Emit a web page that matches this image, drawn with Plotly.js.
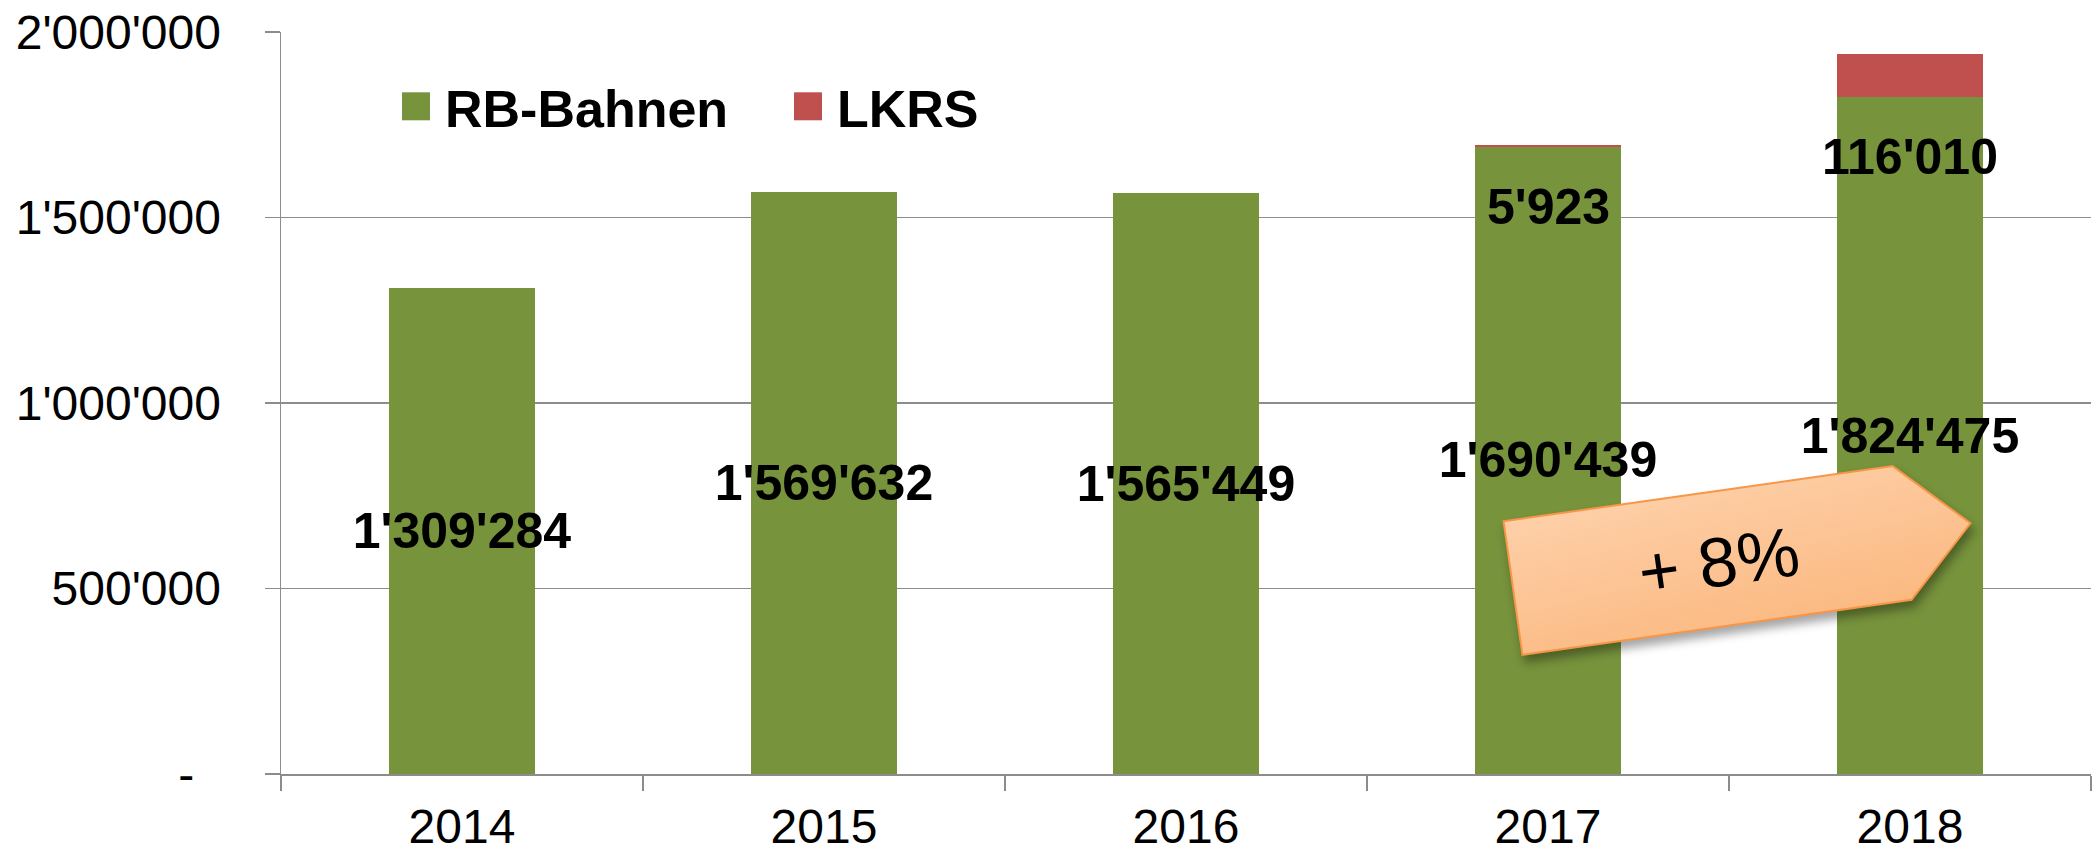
<!DOCTYPE html>
<html><head><meta charset="utf-8">
<script src="https://cdn.plot.ly/plotly-3.0.1.min.js"></script>
<style>html,body{margin:0;padding:0;background:#fff}#chart{width:2094px;height:852px}</style>
</head><body><div id="chart"></div>
<script>
// ---- data ----
const years = ['2014', '2015', '2016', '2017', '2018'];
const rbBahnen = [1309284, 1569632, 1565449, 1690439, 1824475];
const lkrs = [null, null, null, 5923, 116010];
const yTickVals = [0, 500000, 1000000, 1500000, 2000000];
const yTickText = ['-\u00a0\u00a0', "500'000", "1'000'000", "1'500'000", "2'000'000"];
const growthLabel = '+ 8%';

function fmt(v) { return String(v).replace(/\B(?=(\d{3})+(?!\d))/g, "'"); }

const FONT = '"Liberation Sans", Arial, Helvetica, sans-serif';
const GREEN = '#77933C', RED = '#C0504D', GRID = '#8c8c8c';
const W = 2094, H = 852, ML = 281, MR = 3, MT = 32, MB = 78;
const PW = W - ML - MR, PH = H - MT - MB;

const traces = [
  {type: 'bar', name: 'RB-Bahnen', x: years, y: rbBahnen, marker: {color: GREEN},
   text: rbBahnen.map(fmt), textposition: 'inside', insidetextanchor: 'middle',
   textangle: 0, constraintext: 'none',
   insidetextfont: {family: FONT, size: 50, color: '#000', weight: 'bold'}},
  {type: 'bar', name: 'LKRS', x: years, y: lkrs, marker: {color: RED}, textposition: 'none'}
];

const annotations = [];
lkrs.forEach((v, i) => {
  if (v == null) return;
  annotations.push({x: i, y: rbBahnen[i], xref: 'x', yref: 'y', text: fmt(v),
    showarrow: false, yanchor: 'top', yshift: -30,
    font: {family: FONT, size: 50, color: '#000', weight: 'bold'}});
});

// decorative growth arrow (pixel geometry -> paper coords)
function toPaper(px, py) { return [(px - ML) / PW, (MT + PH - py) / PH]; }
const ang = -8.05 * Math.PI / 180;
const u = [Math.cos(ang), Math.sin(ang)], n = [-Math.sin(ang), Math.cos(ang)];
const lm = [1513, 588], len = 462, body = 393, hh = 67.5;
const P1 = [lm[0] - n[0] * hh, lm[1] - n[1] * hh];
const P2 = [P1[0] + u[0] * body, P1[1] + u[1] * body];
const P3 = [lm[0] + u[0] * len, lm[1] + u[1] * len];
const P5 = [P1[0] + n[0] * 2 * hh, P1[1] + n[1] * 2 * hh];
const P4 = [P5[0] + u[0] * body, P5[1] + u[1] * body];
const path = [P1, P2, P3, P4, P5].map((p, i) => {
  const q = toPaper(p[0], p[1]); return (i ? 'L' : 'M') + q[0].toFixed(5) + ',' + q[1].toFixed(5);
}).join('') + 'Z';
const textC = toPaper(1719, 562);

annotations.push({xref: 'paper', yref: 'paper', x: textC[0], y: textC[1], text: growthLabel,
  showarrow: false, textangle: -8, xanchor: 'center', yanchor: 'middle',
  font: {family: FONT, size: 70, color: '#000'}});

const legPos = toPaper(387, 66);

const layout = {
  width: W, height: H, margin: {l: ML, r: MR, t: MT, b: MB, pad: 0, autoexpand: false},
  paper_bgcolor: '#fff', plot_bgcolor: '#fff',
  barmode: 'stack', bargap: 0.597, separators: ".'",
  font: {family: FONT, size: 48, color: '#000'},
  showlegend: true,
  xaxis: {type: 'category', range: [-0.5, 4.5], tickson: 'boundaries', ticks: 'outside', ticklen: 15, tickwidth: 1.5,
    tickcolor: GRID, showline: true, linecolor: GRID, linewidth: 1.5, showgrid: false, automargin: false,
    tickfont: {family: FONT, size: 48, color: '#000'}, ticklabelstandoff: 10, fixedrange: true},
  yaxis: {range: [0, 2000000], tickmode: 'array', tickvals: yTickVals, ticktext: yTickText,
    ticks: 'outside', ticklen: 15, tickwidth: 1.5, tickcolor: GRID, showline: true, automargin: false,
    linecolor: GRID, linewidth: 1.5, showgrid: true, gridcolor: GRID, gridwidth: 1.5,
    zeroline: false, tickfont: {family: FONT, size: 48, color: '#000'}, ticklabelstandoff: 34,
    fixedrange: true},
  legend: {orientation: 'h', xref: 'paper', yref: 'paper', x: legPos[0], y: legPos[1],
    xanchor: 'left', yanchor: 'top', traceorder: 'normal', itemwidth: 48,
    entrywidth: 329, entrywidthmode: 'pixels',
    font: {family: FONT, size: 52, color: '#000', weight: 'bold'}, bgcolor: 'rgba(0,0,0,0)'},
  shapes: [{type: 'path', xref: 'paper', yref: 'paper', path: path, layer: 'above',
    fillcolor: '#FCC596', line: {color: '#F79646', width: 2}}],
  annotations: annotations
};

Plotly.newPlot('chart', traces, layout, {displayModeBar: false, staticPlot: true}).then(() => {
  const ns = 'http://www.w3.org/2000/svg';
  const svg = document.querySelector('#chart .main-svg');
  let defs = svg.querySelector('defs');
  if (!defs) { defs = document.createElementNS(ns, 'defs'); svg.insertBefore(defs, svg.firstChild); }
  const lg = document.createElementNS(ns, 'linearGradient');
  lg.setAttribute('id', 'arrowGrad');
  lg.setAttribute('x1', '0'); lg.setAttribute('y1', '0'); lg.setAttribute('x2', '0.6'); lg.setAttribute('y2', '1');
  [['0', '#FED6B4'], ['1', '#FBB67C']].forEach(s => {
    const st = document.createElementNS(ns, 'stop');
    st.setAttribute('offset', s[0]); st.setAttribute('stop-color', s[1]); lg.appendChild(st);
  });
  defs.appendChild(lg);
  document.querySelectorAll('#chart .shapelayer path').forEach(p => {
    p.style.fill = 'url(#arrowGrad)';
    p.style.filter = 'drop-shadow(3px 7px 5px rgba(0,0,0,0.35))';
  });
  document.querySelectorAll('#chart .legend .legendpoints path').forEach(p => {
    p.setAttribute('d', 'M14,14H-14V-14H14Z');
    p.setAttribute('transform', 'translate(29,0)');
    p.removeAttribute('clip-path');
    p.style.strokeWidth = '0';
  });
});
</script>
</body></html>
